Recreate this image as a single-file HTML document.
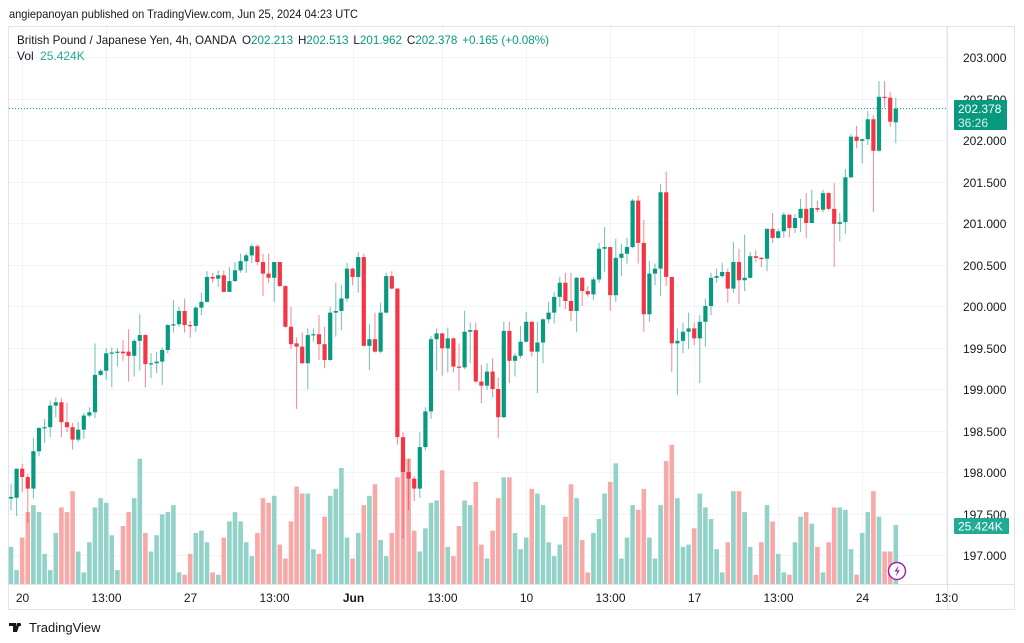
<!DOCTYPE html>
<html><head><meta charset="utf-8">
<style>
html,body{margin:0;padding:0;background:#fff;width:1024px;height:643px;overflow:hidden;font-family:"Liberation Sans",sans-serif;}
svg text{font-family:"Liberation Sans",sans-serif;}
</style></head>
<body>
<svg id="chart" width="1024" height="643" viewBox="0 0 1024 643" xmlns="http://www.w3.org/2000/svg">
  <text x="9" y="18" font-size="12" fill="#131722" textLength="349" lengthAdjust="spacingAndGlyphs">angiepanoyan published on TradingView.com, Jun 25, 2024 04:23 UTC</text>
  <rect x="8.5" y="26.5" width="1006" height="583" fill="none" stroke="#e0e3eb"/>
  <g id="grid"></g>
  <line x1="947.5" y1="27" x2="947.5" y2="609" stroke="#e0e3eb"/>
  <line x1="9" y1="584.5" x2="1014" y2="584.5" stroke="#e0e3eb"/>
  <g id="vols"></g>
  <g id="candles"></g>
  <line x1="9" y1="108.6" x2="947" y2="108.6" stroke="#089981" stroke-dasharray="1,2" stroke-width="1"/>
  <g id="yaxis"></g>
  <g id="xaxis"></g>
  <g>
    <rect x="954" y="100" width="53" height="30" rx="1" fill="#089981"/>
    <text x="958" y="113" font-size="12" fill="#fff">202.378</text>
    <text x="958" y="127" font-size="12" fill="#d8f0eb">36:26</text>
  </g>
  <g>
    <rect x="954" y="518" width="55" height="16" rx="1" fill="#22ab94"/>
    <text x="958" y="530.5" font-size="12" fill="#fff">25.424K</text>
  </g>
  <g font-size="12">
    <text x="17" y="44" fill="#131722" textLength="532" lengthAdjust="spacingAndGlyphs">British Pound / Japanese Yen, 4h, OANDA <tspan dx="3">O</tspan><tspan fill="#089981">202.213</tspan><tspan dx="5">H</tspan><tspan fill="#089981">202.513</tspan><tspan dx="5">L</tspan><tspan fill="#089981">201.962</tspan><tspan dx="5">C</tspan><tspan fill="#089981">202.378</tspan><tspan dx="5" fill="#089981">+0.165 (+0.08%)</tspan></text>
    <text x="17" y="60" fill="#131722">Vol <tspan dx="3" fill="#22ab94">25.424K</tspan></text>
  </g>
  <g>
    <circle cx="897" cy="571" r="8.5" fill="#fff" stroke="#9c27b0" stroke-width="1.5"/>
    <path d="M898.5 565.5 L894.5 571.5 L897.2 571.5 L895.8 576.5 L899.8 570.2 L897.2 570.2 Z" fill="#9c27b0"/>
  </g>
  <g>
    <path d="M9 623 h7 v9 h-3 v-6 h-4 z M17 623 h3 l-3 9 h-2.5 z" fill="#131722"/>
    <circle cx="19.5" cy="624.6" r="1.6" fill="#131722"/>
    <text x="29" y="632" font-size="13" fill="#131722">TradingView</text>
  </g>
</svg>
<script>
const opens=[197.68,197.69,198.04,197.94,197.80,198.25,198.53,198.54,198.80,198.84,198.60,198.54,198.39,198.51,198.68,198.72,199.17,199.22,199.43,199.44,199.45,199.45,199.40,199.58,199.65,199.30,199.31,199.33,199.47,199.77,199.78,199.94,199.77,199.76,199.98,200.05,200.35,200.33,200.37,200.17,200.30,200.43,200.54,200.61,200.72,200.53,200.39,200.34,200.53,200.24,199.75,199.55,199.51,199.31,199.65,199.66,199.54,199.35,199.92,199.94,200.09,200.45,200.35,200.59,199.52,199.60,199.45,199.92,200.36,200.21,198.42,198.00,197.92,197.80,198.30,198.73,199.60,199.67,199.49,199.61,199.27,199.26,199.69,199.71,199.09,199.04,199.21,199.00,198.66,199.70,199.34,199.40,199.57,199.81,199.45,199.56,199.84,199.92,200.11,200.28,200.06,199.94,200.34,200.18,200.14,200.32,200.69,200.71,200.13,200.58,200.63,200.71,201.27,200.76,199.90,200.39,200.45,201.37,200.35,199.55,199.58,199.69,199.73,199.61,199.81,200.00,200.34,200.36,200.41,200.21,200.53,200.31,200.34,200.60,200.58,200.57,200.93,200.82,200.90,201.10,200.94,201.06,201.17,201.00,201.18,201.16,201.36,201.17,200.99,201.01,201.55,202.04,201.99,202.01,202.25,201.87,202.52,202.51,202.213];
const highs=[197.86,198.04,198.10,197.98,198.41,198.54,198.64,198.86,198.90,198.89,198.83,198.59,198.60,198.71,198.78,199.55,199.24,199.49,199.50,199.49,199.59,199.72,199.60,199.90,199.66,199.43,199.45,199.50,199.78,200.07,199.99,200.09,199.82,200.00,200.16,200.42,200.40,200.43,200.43,200.47,200.53,200.63,200.64,200.75,200.74,200.63,200.63,200.53,200.53,200.25,199.99,199.62,199.68,199.73,199.73,199.89,199.75,199.99,200.28,200.25,200.52,200.46,200.65,200.63,199.78,199.92,200.04,200.40,200.42,200.22,198.48,198.16,197.95,198.48,198.78,199.64,199.73,199.68,199.74,199.62,199.55,199.94,199.80,199.80,199.29,199.31,199.37,199.14,199.81,199.81,199.43,199.76,199.93,199.81,199.81,199.85,200.05,200.17,200.35,200.40,200.40,200.35,200.35,200.24,200.35,200.76,200.95,200.71,200.81,200.75,200.82,201.29,201.33,201.04,200.54,200.51,201.47,201.62,200.35,199.73,199.80,199.92,199.80,199.89,200.09,200.40,200.45,200.52,200.45,200.77,200.69,200.86,200.65,200.67,200.59,200.93,201.12,200.93,201.13,201.10,201.11,201.29,201.36,201.40,201.27,201.40,201.37,201.48,201.12,201.65,202.07,202.17,202.01,202.35,202.30,202.71,202.71,202.58,202.513];
const lows=[197.54,197.47,197.76,197.39,197.68,198.19,198.35,198.42,198.66,198.42,198.48,198.27,198.36,198.40,198.66,198.65,199.16,199.11,199.02,199.27,199.34,199.09,199.15,199.22,199.02,199.13,199.19,199.05,199.43,199.68,199.75,199.68,199.62,199.69,199.89,200.04,200.28,200.23,200.16,200.17,200.29,200.40,200.40,200.52,200.49,200.12,200.28,200.05,200.23,199.74,199.48,198.76,199.30,199.00,199.57,199.35,199.25,199.34,199.63,199.71,200.05,200.25,200.16,199.51,199.23,199.44,199.43,199.91,200.20,198.33,197.20,197.54,197.65,197.69,198.26,198.64,199.22,199.16,199.20,199.20,198.98,199.24,199.31,199.08,198.83,198.99,198.90,198.41,198.65,199.07,199.15,199.37,199.56,199.39,198.95,199.31,199.79,199.79,199.99,199.96,199.82,199.69,200.00,200.11,200.07,200.28,200.41,199.94,200.05,200.36,200.51,200.70,200.51,199.69,199.81,200.25,200.12,200.24,199.20,198.93,199.43,199.48,199.53,199.07,199.51,199.89,200.28,200.34,200.04,200.16,200.02,200.18,200.33,200.53,200.47,200.42,200.76,200.81,200.82,200.83,200.88,200.89,200.82,201.05,201.13,201.13,201.15,200.47,200.78,200.87,201.54,201.90,201.72,201.94,201.13,201.86,202.39,202.16,201.962];
const closes=[197.70,198.04,197.94,197.80,198.25,198.53,198.54,198.80,198.84,198.60,198.54,198.39,198.51,198.68,198.72,199.17,199.22,199.43,199.44,199.45,199.43,199.40,199.58,199.65,199.30,199.31,199.33,199.47,199.77,199.78,199.94,199.77,199.76,199.98,200.05,200.35,200.33,200.37,200.17,200.30,200.43,200.54,200.61,200.72,200.53,200.39,200.34,200.53,200.24,199.75,199.54,199.51,199.31,199.65,199.66,199.54,199.35,199.92,199.94,200.09,200.45,200.35,200.59,199.52,199.60,199.45,199.92,200.36,200.21,198.42,198.00,197.92,197.80,198.30,198.73,199.60,199.67,199.49,199.61,199.27,199.26,199.69,199.71,199.09,199.04,199.21,199.00,198.66,199.70,199.34,199.40,199.57,199.81,199.45,199.56,199.84,199.92,200.11,200.28,200.06,199.94,200.34,200.18,200.14,200.32,200.69,200.71,200.13,200.58,200.63,200.71,201.27,200.76,199.90,200.39,200.45,201.37,200.35,199.55,199.58,199.69,199.73,199.61,199.81,200.00,200.34,200.36,200.41,200.21,200.53,200.31,200.34,200.60,200.58,200.57,200.93,200.82,200.90,201.10,200.94,201.06,201.17,201.00,201.18,201.16,201.36,201.17,200.99,201.01,201.55,202.04,201.99,202.01,202.25,201.87,202.52,202.51,202.22,202.378];
const volumes=[16,6,20,31,34,31,13,6,22,33,31,40,14,5,18,33,37,35,21,6,25,31,37,54,22,14,21,30,31,34,5,4,13,22,23,18,5,4,20,27,31,27,18,12,22,37,35,38,17,11,27,42,39,39,15,13,29,38,41,50,20,11,22,34,38,43,19,12,22,46,54,54,23,14,24,35,36,49,16,12,25,36,34,44,17,11,23,37,46,46,22,15,20,41,39,34,18,12,17,29,43,37,19,5,22,28,39,44,52,11,20,34,32,41,20,11,34,53,60,37,16,17,24,39,33,28,15,5,18,40,40,31,16,4,18,34,27,13,5,4,18,29,31,26,16,5,18,33,33,32,15,4,22,31,40,29,14,14,25.424];
const priceTicks=[203,202.5,202,201.5,201,200.5,200,199.5,199,198.5,198,197.5,197];
const timeLabels=["20","13:00","27","13:00","Jun","13:00","10","13:00","17","13:00","24","13:0"];
const timeLabelIdx=[2,17,32,47,61,77,92,107,122,137,152,167];

const NS="http://www.w3.org/2000/svg";
const X0=11, STEP=5.6;
function xOf(i){return X0+i*STEP;}
function yP(p){return 57+(203-p)*83;}
function yV(v){return 584-v*2.32;}
function mk(tag,attrs,parent){const e=document.createElementNS(NS,tag);for(const k in attrs)e.setAttribute(k,attrs[k]);parent.appendChild(e);return e;}

const grid=document.getElementById('grid');
const yaxis=document.getElementById('yaxis');
priceTicks.forEach(p=>{
  const y=Math.round(yP(p))+0.5;
  const gl=mk('line',{x1:9,y1:y,x2:947,y2:y,stroke:'#f0f3fa'},grid);
  
  
  const t=mk('text',{x:963,y:y+4.5,'font-size':12,fill:'#131722'},yaxis);
  t.textContent=p.toFixed(3);
  
  
});
const xaxis=document.getElementById('xaxis');
timeLabels.forEach((lab,k)=>{
  const x=Math.round(xOf(timeLabelIdx[k]))+0.5;
  const gl=mk('line',{x1:x,y1:27,x2:x,y2:584,stroke:'#f0f3fa'},grid);
  
  
  const t=mk('text',{x:x,y:602,'font-size':12,fill:'#131722','text-anchor':'middle','font-weight':lab==='Jun'?'bold':'normal'},xaxis);
  t.textContent=lab;
  
  
});

const vg=document.getElementById('vols');
const cg=document.getElementById('candles');
closes.forEach((c,i)=>{
  const o=opens[i], up=c>=o;
  const x=xOf(i);
  const vb=mk('rect',{x:x-2.3,y:yV(volumes[i]),width:4.6,height:584-yV(volumes[i]),fill:up?'#92d2c8':'#f7a9a7'},vg);
  
  
  const col=up?'#089981':'#f23645';
  const w=mk('line',{x1:x,y1:yP(highs[i]),x2:x,y2:yP(lows[i]),stroke:col,'stroke-width':1,'stroke-opacity':0.6},cg);
  
  
  const top=yP(Math.max(o,c)), bot=yP(Math.min(o,c));
  const b=mk('rect',{x:x-2.1,y:top,width:4.2,height:Math.max(1.2,bot-top),fill:col},cg);
  
  
});
</script>
</body></html>
